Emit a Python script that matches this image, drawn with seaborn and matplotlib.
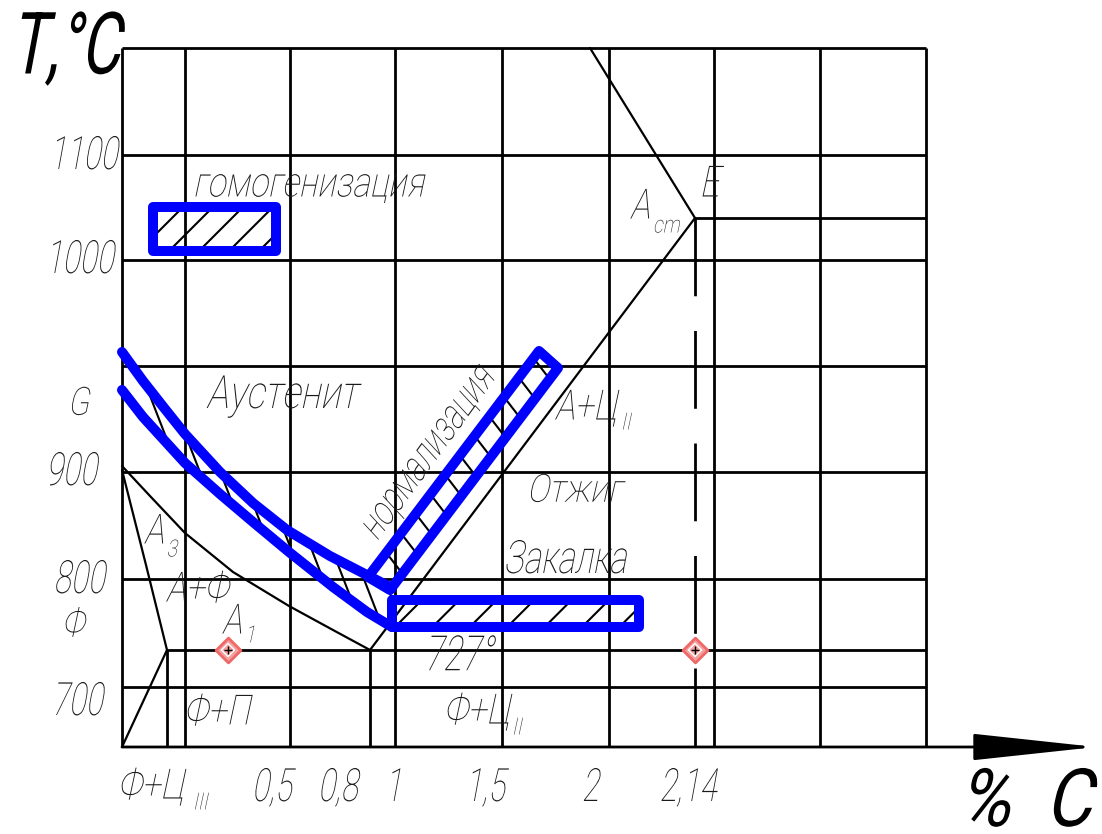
import numpy as np
import matplotlib
matplotlib.use("Agg")
import matplotlib.pyplot as plt
import seaborn as sns
from matplotlib.patches import Polygon, Rectangle
from matplotlib.patheffects import AbstractPathEffect
from matplotlib.transforms import Affine2D

# координаты чертежа (пиксели листа, ось y вниз)
grid_x = [122, 185, 290, 395, 502, 609, 714, 820, 926]
grid_y = [48, 155, 260, 366, 472, 579, 687]
top_y, bottom_y, left_x, right_x = 48, 747, 122, 926

# линии диаграммы Fe-C
gs_x = [122, 150, 185, 233, 289, 333, 370]      # A3
gs_y = [466, 496, 533, 572, 606, 630, 650]
gp_x = [122, 146, 167]
gp_y = [470, 565, 650]
pq_x = [167, 122]
pq_y = [650, 747]
es_x = [370, 695]                               # Acm
es_y = [650, 218]
acm_x = [590, 695]
acm_y = [48, 218]

# интервалы нагрева (синие)
v_up_x = [122, 143, 165, 185, 220, 253, 287, 330, 363, 392]
v_up_y = [352, 381, 409, 434, 472, 503, 530, 556, 573, 588]
v_lo_x = [122, 143, 185, 220, 253, 289, 333, 367, 392]
v_lo_y = [390, 417, 463, 494, 522, 552, 587, 612, 627]
norm_x = [368, 539, 558, 390]
norm_y = [577, 351, 368, 590]
homog_box = (153, 207, 276, 251)   # x0, y0, x1, y1
quench_box = (392, 600, 639, 627)

# тексты
y_ticks = ["1100", "1000", "900", "800", "700"]
y_tick_x = [86, 82, 74, 82, 80]
y_tick_y = [156, 260, 472, 580, 702]
x_ticks = ["0,5", "0,8", "1", "1,5", "2", "2,14"]
x_tick_x = [274, 340, 397, 487, 593, 690]

# текст, x, y, кегль, сжатие
labels = [
    ("гомогенизация", 310, 185, 30, 0.80),
    ("Аустенит", 284, 395, 33, 0.80),
    ("Отжиг", 577, 491, 28, 0.85),
    ("Закалка", 568, 560, 33, 0.72),
    ("727°", 462, 657, 35, 0.70),
    ("А+Ф", 200, 590, 30, 0.80),
    ("Ф+П", 220, 713, 30, 0.80),
    ("E", 712, 185, 31, 0.80),
    ("G", 81, 404, 28, 0.80),
    ("Ф", 76, 625, 28, 0.80),
]
# текст, правый край, y, индекс, левый край индекса, y индекса
sub_labels = [
    ("А", 167, 532, "3", 168, 550),
    ("А", 245, 622, "1", 246, 636),
    ("А", 653, 207, "cm", 654, 226),
    ("А+Ц", 619, 408, "II", 622, 423),
    ("Ф+Ц", 512, 712, "II", 513, 728),
    ("Ф+Ц", 186, 787, "III", 194, 803),
]
marker_x = [228, 695]
marker_y = [650, 650]

BLUE = "#0000ff"
GREY = "#1a1a1a"


class Gost(AbstractPathEffect):
    """Узкий наклонный чертёжный шрифт: сжатие и наклон глифов."""

    def __init__(self, sx=0.75, slant=15, anchor="center"):
        super().__init__()
        self.sx, self.slant, self.anchor = sx, slant, anchor

    def draw_path(self, renderer, gc, tpath, affine, rgbFace=None):
        ext = tpath.get_extents()
        cx = {"left": ext.x0, "right": ext.x1}.get(self.anchor, (ext.x0 + ext.x1) / 2)
        cy = (ext.y0 + ext.y1) / 2
        pre = (Affine2D().translate(-cx, -cy).skew_deg(self.slant, 0)
               .scale(self.sx, 1).translate(cx, cy))
        renderer.draw_path(gc, tpath, pre + affine, rgbFace)


sns.set_theme(style="white")
plt.rcParams["font.family"] = ["Roboto", "DejaVu Sans"]
plt.rcParams["lines.scale_dashes"] = False

fig = plt.figure(figsize=(11.02, 8.34), dpi=100)
ax = fig.add_axes([0, 0, 1, 1])
ax.set_xlim(0, 1102)
ax.set_ylim(834, 0)
ax.set_axis_off()

# сетка
ax.vlines(grid_x, top_y, bottom_y, color="black", lw=2)
ax.hlines(grid_y, left_x, right_x, color="black", lw=2)
ax.hlines([218], 695, right_x, color="black", lw=2)
ax.hlines([650], 167, right_x, color="black", lw=2)
ax.vlines([167, 370], 650, bottom_y, color="black", lw=2)
ax.annotate("", xy=(1096, bottom_y), xytext=(left_x, bottom_y),
            arrowprops=dict(arrowstyle="-|>,head_length=6.5,head_width=0.7",
                            color="black", lw=2, shrinkA=0, shrinkB=0))

for xs, ys in [(gs_x, gs_y), (gp_x, gp_y), (pq_x, pq_y), (es_x, es_y), (acm_x, acm_y)]:
    sns.lineplot(x=xs, y=ys, ax=ax, color="black", lw=1.6, sort=False, estimator=None)
ax.plot([695, 695], [218, bottom_y], color="black", lw=2, dashes=(56, 25))


def hatch(verts, normal, c_values):
    clip = Polygon(verts, closed=True, fill=False, lw=0, transform=ax.transData)
    ax.add_patch(clip)
    n = np.array(normal, float)
    d = np.array([-n[1], n[0]]) / np.linalg.norm(n)
    for c in c_values:
        p0 = c * n / n.dot(n)
        pts = np.array([p0 - 3000 * d, p0 + 3000 * d])
        ln, = ax.plot(pts[:, 0], pts[:, 1], color="black", lw=1.5, zorder=3)
        ln.set_clip_path(clip)


def box_verts(b):
    x0, y0, x1, y1 = b
    return [(x0, y0), (x1, y0), (x1, y1), (x0, y1)]


hatch(box_verts(homog_box), (1, 1), 390 + 30 * np.arange(5))
hatch(box_verts(quench_box), (1, 1), 1022 + 37.4 * np.arange(7))
hatch(list(zip(norm_x, norm_y)), (0.79, -0.61), 203 - 23.5 * np.arange(12))
v_poly = list(zip(v_up_x, v_up_y)) + list(zip(v_lo_x[::-1], v_lo_y[::-1]))
hatch(v_poly, (0.93, -0.36), -3 + 19 * np.arange(9))

for b in (homog_box, quench_box):
    ax.add_patch(Rectangle((b[0], b[1]), b[2] - b[0], b[3] - b[1], fill=False,
                           ec=BLUE, lw=7.2, joinstyle="round", zorder=4))
ax.add_patch(Polygon(list(zip(norm_x, norm_y)), closed=True, fill=False,
                     ec=BLUE, lw=7.2, joinstyle="round", zorder=4))
for xs, ys in [(v_up_x, v_up_y), (v_lo_x, v_lo_y)]:
    sns.lineplot(x=xs, y=ys, ax=ax, color=BLUE, lw=7.2, sort=False, estimator=None,
                 solid_capstyle="round", solid_joinstyle="round", zorder=4)

sns.scatterplot(x=marker_x, y=marker_y, ax=ax, marker="D", s=160, color="#f5a0a0",
                edgecolor="#ee6868", linewidth=2, zorder=6)
sns.scatterplot(x=marker_x, y=marker_y, ax=ax, marker="D", s=45, color="none",
                edgecolor="white", linewidth=1, zorder=7)
sns.scatterplot(x=marker_x, y=marker_y, ax=ax, marker="+", s=30, color="black",
                linewidth=1.0, zorder=8)


def gtext(x, y, s, size, sx, color=GREY, weight="light", anchor="center", **kw):
    kw.setdefault("ha", "center")
    kw.setdefault("va", "center")
    ax.text(x, y, s, fontsize=size, color=color, fontweight=weight, zorder=5,
            path_effects=[Gost(sx, anchor=anchor)], **kw)


for s, x, y in zip(y_ticks, y_tick_x, y_tick_y):
    gtext(x, y, s, 33, 0.68)
for s, x in zip(x_ticks, x_tick_x):
    gtext(x, 788, s, 33, 0.68)
for s, x, y, fs, sx in labels:
    gtext(x, y, s, fs, sx)
for s, x, y, sub, sx_, sy in sub_labels:
    gtext(x, y, s, 30, 0.8, anchor="right", ha="right")
    gtext(sx_, sy, sub, 17, 0.8, anchor="left", ha="left")
gtext(428, 452, "нормализация", 30, 0.73, rotation=54, rotation_mode="anchor")

gtext(14, 50, "T,°C", 62, 0.7, color="black", weight="normal", anchor="left", ha="left")
gtext(1098, 826, "%  C", 58, 0.88, color="black", weight="normal", anchor="right",
      ha="right", va="baseline")

ax.set_xlim(0, 1102)
ax.set_ylim(834, 0)
fig.savefig("out.png", dpi=100)
